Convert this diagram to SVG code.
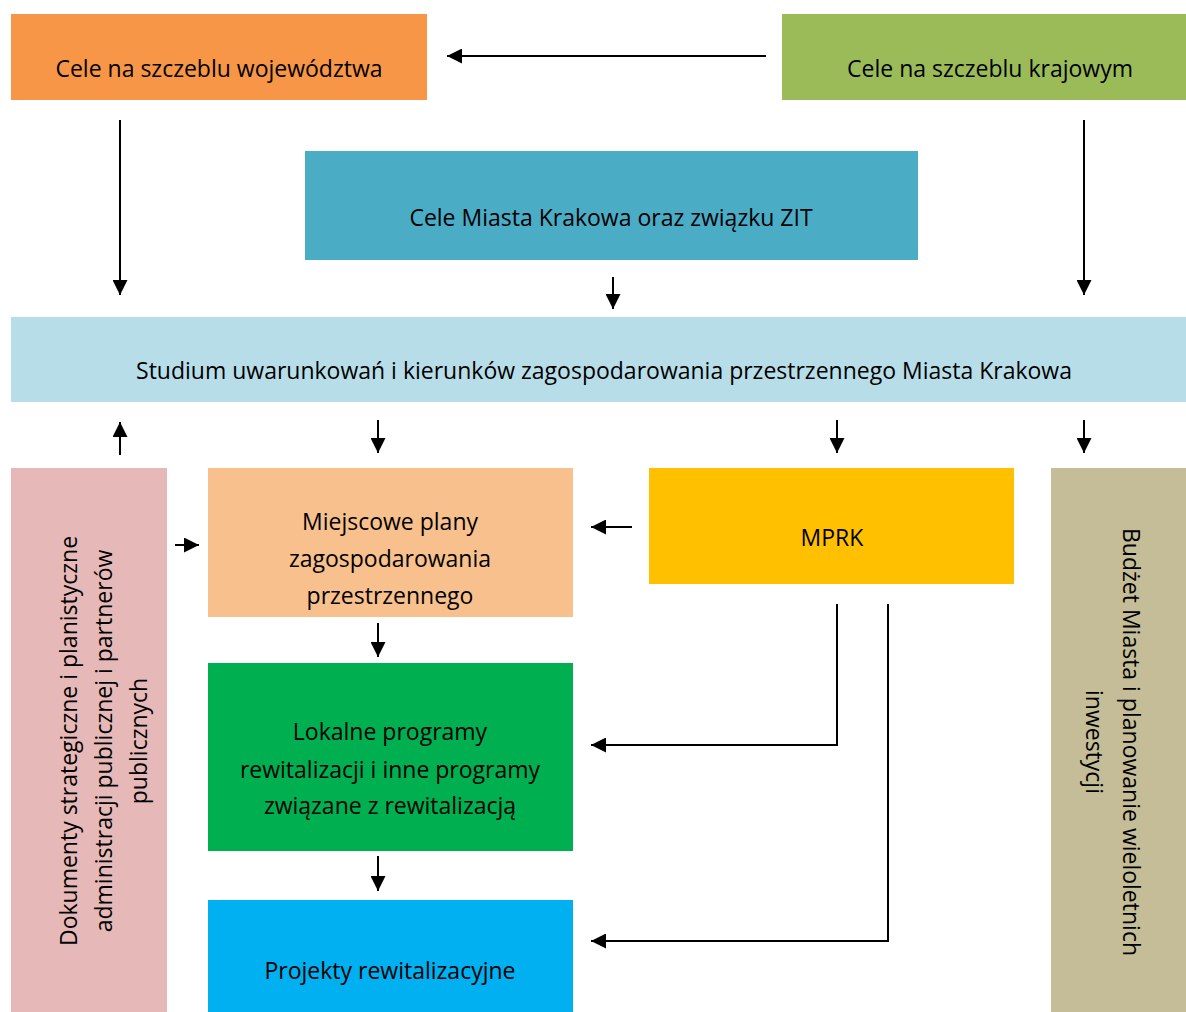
<svg xmlns="http://www.w3.org/2000/svg" width="1186" height="1012" viewBox="0 0 1186 1012">
<defs>
<marker id="ah" viewBox="0 0 10 10" refX="10" refY="5" markerWidth="7.5" markerHeight="7.5" markerUnits="strokeWidth" orient="auto">
<path d="M0,0 L10,5 L0,10 z" fill="#000"/>
</marker>
</defs>
<style>
text{font-family:"Open Sans","Noto Sans",sans-serif;font-size:23px;fill:#000;text-anchor:middle}
.c{fill:none;stroke:#000;stroke-width:2;marker-end:url(#ah)}
</style>
<rect width="1186" height="1012" fill="#fff"/>
<g id="woj"><rect x="11" y="14" width="416" height="86" fill="#F79646"/><text x="219" y="77">Cele na szczeblu województwa</text></g>
<g id="kraj"><rect x="782" y="14" width="404" height="86" fill="#9BBB59"/><text x="990" y="77">Cele na szczeblu krajowym</text></g>
<g id="zit"><rect x="305" y="151" width="613" height="109" fill="#4BACC6"/><text x="611" y="226">Cele Miasta Krakowa oraz związku ZIT</text></g>
<g id="studium"><rect x="11" y="317" width="1175" height="85" fill="#B7DEE8"/><text x="604" y="379">Studium uwarunkowań i kierunków zagospodarowania przestrzennego Miasta Krakowa</text></g>
<g id="dok"><rect x="11" y="468" width="156" height="544" fill="#E6B9B8"/>
<text transform="translate(89,741) rotate(-90)"><tspan x="0" y="-12">Dokumenty strategiczne i planistyczne</tspan><tspan x="0" y="23">administracji publicznej i partnerów</tspan><tspan x="0" y="58">publicznych</tspan></text></g>
<g id="mpzp"><rect x="208" y="468" width="365" height="149" fill="#F8C08D"/><text><tspan x="390" y="530">Miejscowe plany</tspan><tspan x="390" y="567">zagospodarowania</tspan><tspan x="390" y="604">przestrzennego</tspan></text></g>
<g id="mprk"><rect x="649" y="468" width="365" height="116" fill="#FFC000"/><text x="832" y="546">MPRK</text></g>
<g id="budzet"><rect x="1051" y="468" width="135" height="544" fill="#C4BD97"/>
<text transform="translate(1112,742) rotate(90)"><tspan x="0" y="-11">Budżet Miasta i planowanie wieloletnich</tspan><tspan x="0" y="26">inwestycji</tspan></text></g>
<g id="lpr"><rect x="208" y="663" width="365" height="188" fill="#00B050"/><text><tspan x="390" y="740">Lokalne programy</tspan><tspan x="390" y="778">rewitalizacji i inne programy</tspan><tspan x="390" y="814">związane z rewitalizacją</tspan></text></g>
<g id="proj"><rect x="208" y="900" width="365" height="112" fill="#00B0F0"/><text x="390" y="979">Projekty rewitalizacyjne</text></g>
<g id="connectors">
<path class="c" d="M766,56 H447"/>
<path class="c" d="M120,120 V295"/>
<path class="c" d="M1084,120 V295"/>
<path class="c" d="M613,277 V309"/>
<path class="c" d="M120,455 V422"/>
<path class="c" d="M378,420 V453"/>
<path class="c" d="M837,420 V453"/>
<path class="c" d="M1084,420 V453"/>
<path class="c" d="M175,545 H199"/>
<path class="c" d="M632,527 H591"/>
<path class="c" d="M378,623 V657"/>
<path class="c" d="M378,856 V891"/>
<path class="c" d="M837,604 V745 H591"/>
<path class="c" d="M888,604 V941 H591"/>
</g>
</svg>
